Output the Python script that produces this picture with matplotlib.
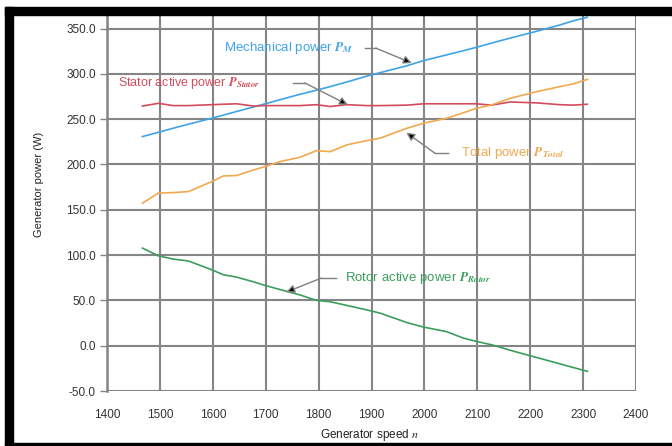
import numpy as np
import matplotlib
matplotlib.use("Agg")
import matplotlib.pyplot as plt
from matplotlib.patches import Rectangle

# generator speed (rpm) and measured powers (W)
speed = [1467, 1497, 1525, 1554, 1598, 1620, 1645, 1677, 1699, 1727, 1765, 1796, 1822, 1853,
         1891, 1916, 1967, 1998, 2042, 2073, 2098, 2127, 2162, 2212, 2256, 2281, 2308]
p_mech = [230.8, 235.5, 240.0, 244.5, 251.0, 254.5, 258.5, 263.5, 267.0, 271.5, 277.5, 282.0, 286.0, 291.0,
          297.5, 301.3, 309.0, 314.6, 321.0, 325.5, 329.3, 334.0, 339.5, 347.0, 354.0, 358.5, 362.5]
p_stator = [264.5, 267.5, 265.0, 265.0, 266.0, 266.5, 267.0, 264.5, 265.0, 265.0, 265.0, 266.0, 264.0, 266.0,
            265.0, 265.0, 265.5, 267.0, 267.0, 267.0, 267.0, 265.5, 269.0, 268.0, 266.0, 265.5, 266.5]
p_total = [157.3, 168.4, 169.0, 170.1, 181.1, 187.4, 187.8, 194.0, 197.7, 203.2, 208.0, 215.3, 214.2, 221.6,
           226.4, 229.0, 240.0, 245.5, 251.0, 257.0, 262.0, 265.7, 273.0, 280.4, 285.9, 288.9, 294.0]
p_rotor = [107.7, 99.2, 95.6, 93.5, 83.8, 78.3, 75.7, 70.5, 66.5, 62.0, 56.0, 50.0, 48.5, 44.5,
           39.5, 36.0, 25.5, 20.6, 15.5, 8.5, 4.8, 1.0, -5.0, -13.0, -20.0, -24.0, -28.3]

c_mech = "#3fa3e6"
c_stator = "#d34b5c"
c_total = "#f0a94f"
c_rotor = "#3a9e5c"

plt.rcParams["font.family"] = ["Liberation Sans", "DejaVu Sans"]
plt.rcParams["mathtext.fontset"] = "stix"

fig = plt.figure(figsize=(6.72, 4.46), dpi=100)
W, H = 672.0, 446.0
ax = fig.add_axes([107 / W, 1 - 391 / H, 529 / W, 376 / H])

ax.plot(speed, p_mech, color=c_mech, lw=1.2, zorder=3)
ax.plot(speed, p_stator, color=c_stator, lw=1.2, zorder=3)
ax.plot(speed, p_total, color=c_total, lw=1.2, zorder=3)
ax.plot(speed, p_rotor, color=c_rotor, lw=1.2, zorder=3)

ax.set_xlim(1400, 2400)
ax.set_ylim(-50, 365)
ax.set_xticks(np.arange(1400, 2401, 100))
ax.set_yticks(np.arange(-50, 351, 50))
ax.set_yticklabels([f"{v:.1f}" for v in np.arange(-50, 351, 50)])
ax.grid(True, color="#858585", lw=1.5, zorder=1)
ax.set_axisbelow(True)
for s in ["top", "right", "bottom"]:
    ax.spines[s].set_visible(False)
ax.spines["left"].set_color("#858585")
ax.spines["left"].set_linewidth(1.8)
ax.tick_params(axis="y", length=5, width=1, color="#858585", pad=3, labelsize=8.5, labelcolor="#333333")
ax.tick_params(axis="x", length=0, pad=13, labelsize=8.5, labelcolor="#333333")

ax.set_ylabel("Generator power (W)", fontsize=8, color="#222222")
ax.yaxis.set_label_coords(-0.12, 0.55)
ax.set_xlabel("Generator speed $\\mathit{n}$", fontsize=8.5, color="#222222")
ax.xaxis.set_label_coords(0.497, -0.097)

def label(x, y, txt, col, start, corner, end, fs=9.5):
    ax.text(x, y, txt, color=col, fontsize=fs, va="center", ha="left")
    ax.plot([start[0], corner[0]], [start[1], corner[1]], color="#7f7f7f", lw=1, zorder=4)
    ax.annotate("", xy=end, xytext=corner,
                arrowprops=dict(arrowstyle="-|>", color="#7f7f7f", lw=1, mutation_scale=12,
                                shrinkA=0, shrinkB=0, fc="black", ec="#7f7f7f"), zorder=4)

label(1621, 328.5, "Mechanical power $\\mathbfit{P}_{\\mathbfit{M}}$", c_mech,
      (1887, 328.5), (1908, 328.5), (1976, 312))
label(1421, 289.5, "Stator active power $\\mathbfit{P}_{\\mathbfit{Stator}}$", c_stator,
      (1752, 290), (1774, 290), (1855, 266), fs=9)
label(2070, 212.4, "Total power $\\mathbfit{P}_{\\mathbfit{Total}}$", c_total,
      (2044, 212.4), (2020, 212.4), (1966, 235.2))
label(1850, 74.6, "Rotor active power $\\mathbfit{P}_{\\mathbfit{Rotor}}$", c_rotor,
      (1833, 74.6), (1805, 74.6), (1739, 59.2))

# black screenshot frame
fig.patches.append(Rectangle((5 / W, 0), 8 / W, 1 - 7 / H, transform=fig.transFigure, color="black"))
fig.patches.append(Rectangle((5 / W, 1 - 15 / H), 1 - 5 / W, 8 / H, transform=fig.transFigure, color="black"))
fig.patches.append(Rectangle((5 / W, 1 - 445 / H), 1 - 5 / W, 2 / H, transform=fig.transFigure, color="black"))

fig.savefig("out.png", dpi=100)
